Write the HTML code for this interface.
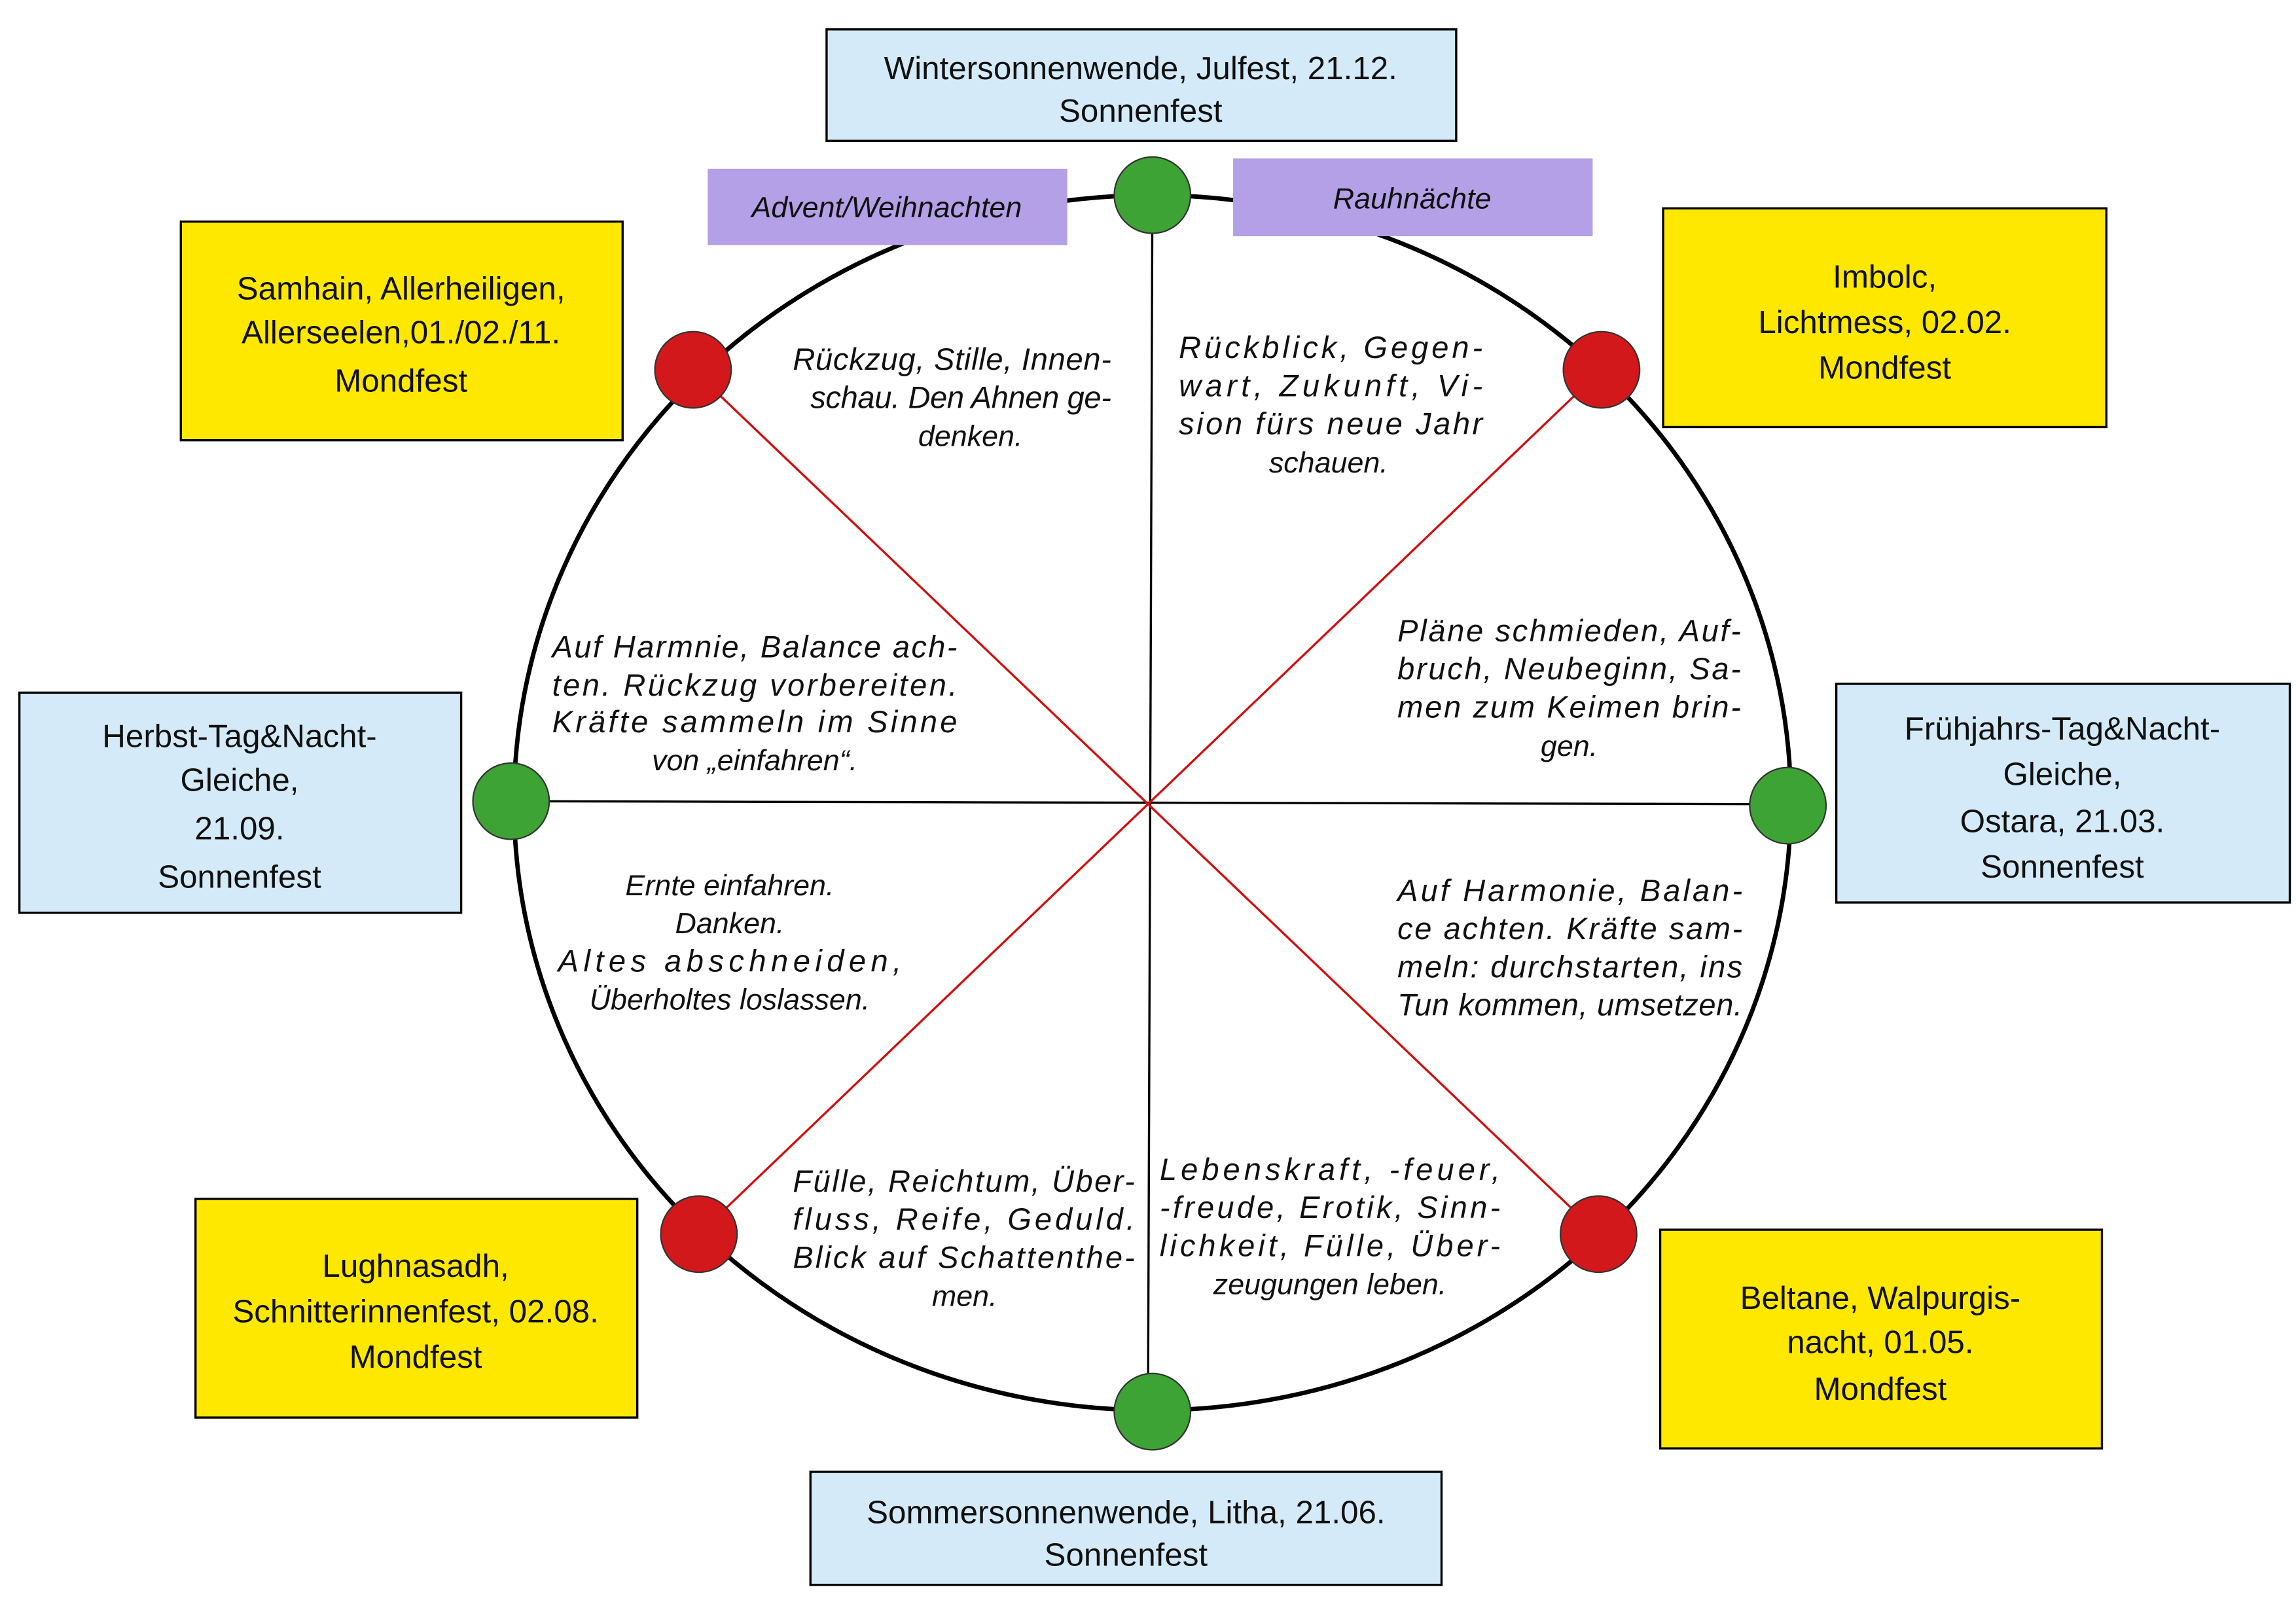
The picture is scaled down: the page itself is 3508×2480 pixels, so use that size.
<!DOCTYPE html>
<html><head><meta charset="utf-8"><style>
html,body{margin:0;padding:0;background:#fff;}
svg{display:block;}
.b{font-family:"Liberation Sans",sans-serif;font-size:22px;fill:#111;text-anchor:middle;}
.i{font-family:"Liberation Sans",sans-serif;font-size:21px;font-style:italic;fill:#111;}
.c{text-anchor:middle;font-size:20px;}
</style></head><body>
<svg width="3508" height="2480" viewBox="0 0 1564 1106" xmlns="http://www.w3.org/2000/svg">
<rect width="1564" height="1106" fill="#fff"/>
<ellipse cx="785" cy="547" rx="435" ry="414" fill="none" stroke="#000" stroke-width="3"/>
<line x1="785" y1="133" x2="782" y2="961" stroke="#000" stroke-width="1.5"/>
<line x1="348" y1="546" x2="1218" y2="548" stroke="#000" stroke-width="1.5"/>
<line x1="472" y1="252" x2="1089" y2="841" stroke="#d01010" stroke-width="1.5"/>
<line x1="1091" y1="252" x2="476" y2="841" stroke="#d01010" stroke-width="1.5"/>
<g stroke="#333" stroke-width="1">
<circle cx="785" cy="133" r="26" fill="#3ea335"/>
<circle cx="785" cy="962" r="26" fill="#3ea335"/>
<circle cx="348" cy="546" r="26" fill="#3ea335"/>
<circle cx="1218" cy="549" r="26" fill="#3ea335"/>
<circle cx="472" cy="252" r="26" fill="#d3181c"/>
<circle cx="1091" cy="252" r="26" fill="#d3181c"/>
<circle cx="476" cy="841" r="26" fill="#d3181c"/>
<circle cx="1089" cy="841" r="26" fill="#d3181c"/>
</g>
<g stroke="#000" stroke-width="1.5">
<rect x="563" y="20" width="429" height="76" fill="#d4eaf8"/>
<rect x="552" y="1003" width="430" height="77" fill="#d4eaf8"/>
<rect x="13" y="472" width="301" height="150" fill="#d4eaf8"/>
<rect x="1251" y="466" width="309" height="149" fill="#d4eaf8"/>
<rect x="123" y="151" width="301" height="149" fill="#ffe800"/>
<rect x="1133" y="142" width="302" height="149" fill="#ffe800"/>
<rect x="133" y="817" width="301" height="149" fill="#ffe800"/>
<rect x="1131" y="838" width="301" height="149" fill="#ffe800"/>
</g>
<rect x="482" y="115" width="245" height="52" fill="#b3a0e6"/>
<rect x="840" y="108" width="245" height="53" fill="#b3a0e6"/>
<text class="i c" x="604" y="148">Advent/Weihnachten</text>
<text class="i c" x="962" y="142">Rauhnächte</text>

<text class="b" x="777" y="54">Wintersonnenwende, Julfest, 21.12.</text>
<text class="b" x="777" y="83">Sonnenfest</text>
<text class="b" x="767" y="1038">Sommersonnenwende, Litha, 21.06.</text>
<text class="b" x="767" y="1067">Sonnenfest</text>
<text class="b" x="163" y="509">Herbst-Tag&amp;Nacht-</text>
<text class="b" x="163" y="539">Gleiche,</text>
<text class="b" x="163" y="572">21.09.</text>
<text class="b" x="163" y="605">Sonnenfest</text>
<text class="b" x="1405" y="504">Frühjahrs-Tag&amp;Nacht-</text>
<text class="b" x="1405" y="535">Gleiche,</text>
<text class="b" x="1405" y="567">Ostara, 21.03.</text>
<text class="b" x="1405" y="598">Sonnenfest</text>
<text class="b" x="273" y="204">Samhain, Allerheiligen,</text>
<text class="b" x="273" y="234">Allerseelen,01./02./11.</text>
<text class="b" x="273" y="267">Mondfest</text>
<text class="b" x="1284" y="196">Imbolc,</text>
<text class="b" x="1284" y="227">Lichtmess, 02.02.</text>
<text class="b" x="1284" y="258">Mondfest</text>
<text class="b" x="283" y="870">Lughnasadh,</text>
<text class="b" x="283" y="901">Schnitterinnenfest, 02.08.</text>
<text class="b" x="283" y="932">Mondfest</text>
<text class="b" x="1281" y="892">Beltane, Walpurgis-</text>
<text class="b" x="1281" y="922">nacht, 01.05.</text>
<text class="b" x="1281" y="954">Mondfest</text>

<text class="i" x="540" y="252" textLength="217" lengthAdjust="spacing">Rückzug, Stille, Innen-</text>
<text class="i" x="552" y="278" textLength="205" lengthAdjust="spacing">schau. Den Ahnen ge-</text>
<text class="i c" x="661" y="304">denken.</text>

<text class="i" x="803" y="244" textLength="207" lengthAdjust="spacing">Rückblick, Gegen-</text>
<text class="i" x="803" y="270" textLength="207" lengthAdjust="spacing">wart, Zukunft, Vi-</text>
<text class="i" x="803" y="296" textLength="207" lengthAdjust="spacing">sion fürs neue Jahr</text>
<text class="i c" x="905" y="322">schauen.</text>

<text class="i" x="376" y="448" textLength="276" lengthAdjust="spacing">Auf Harmnie, Balance ach-</text>
<text class="i" x="376" y="474" textLength="276" lengthAdjust="spacing">ten. Rückzug vorbereiten.</text>
<text class="i" x="376" y="499" textLength="276" lengthAdjust="spacing">Kräfte sammeln im Sinne</text>
<text class="i c" x="514" y="525">von „einfahren“.</text>

<text class="i" x="952" y="437" textLength="234" lengthAdjust="spacing">Pläne schmieden, Auf-</text>
<text class="i" x="952" y="463" textLength="234" lengthAdjust="spacing">bruch, Neubeginn, Sa-</text>
<text class="i" x="952" y="489" textLength="234" lengthAdjust="spacing">men zum Keimen brin-</text>
<text class="i c" x="1069" y="515">gen.</text>

<text class="i c" x="497" y="610">Ernte einfahren.</text>
<text class="i c" x="497" y="636">Danken.</text>
<text class="i" x="380" y="662" textLength="234" lengthAdjust="spacing">Altes abschneiden,</text>
<text class="i c" x="497" y="688">Überholtes loslassen.</text>

<text class="i" x="952" y="614" textLength="235" lengthAdjust="spacing">Auf Harmonie, Balan-</text>
<text class="i" x="952" y="640" textLength="235" lengthAdjust="spacing">ce achten. Kräfte sam-</text>
<text class="i" x="952" y="666" textLength="235" lengthAdjust="spacing">meln: durchstarten, ins</text>
<text class="i" x="952" y="692" textLength="235" lengthAdjust="spacing">Tun kommen, umsetzen.</text>

<text class="i" x="540" y="812" textLength="233" lengthAdjust="spacing">Fülle, Reichtum, Über-</text>
<text class="i" x="540" y="838" textLength="233" lengthAdjust="spacing">fluss, Reife, Geduld.</text>
<text class="i" x="540" y="864" textLength="233" lengthAdjust="spacing">Blick auf Schattenthe-</text>
<text class="i c" x="657" y="890">men.</text>

<text class="i" x="790" y="804" textLength="232" lengthAdjust="spacing">Lebenskraft, -feuer,</text>
<text class="i" x="790" y="830" textLength="232" lengthAdjust="spacing">-freude, Erotik, Sinn-</text>
<text class="i" x="790" y="856" textLength="232" lengthAdjust="spacing">lichkeit, Fülle, Über-</text>
<text class="i c" x="906" y="882">zeugungen leben.</text>
</svg>
</body></html>
